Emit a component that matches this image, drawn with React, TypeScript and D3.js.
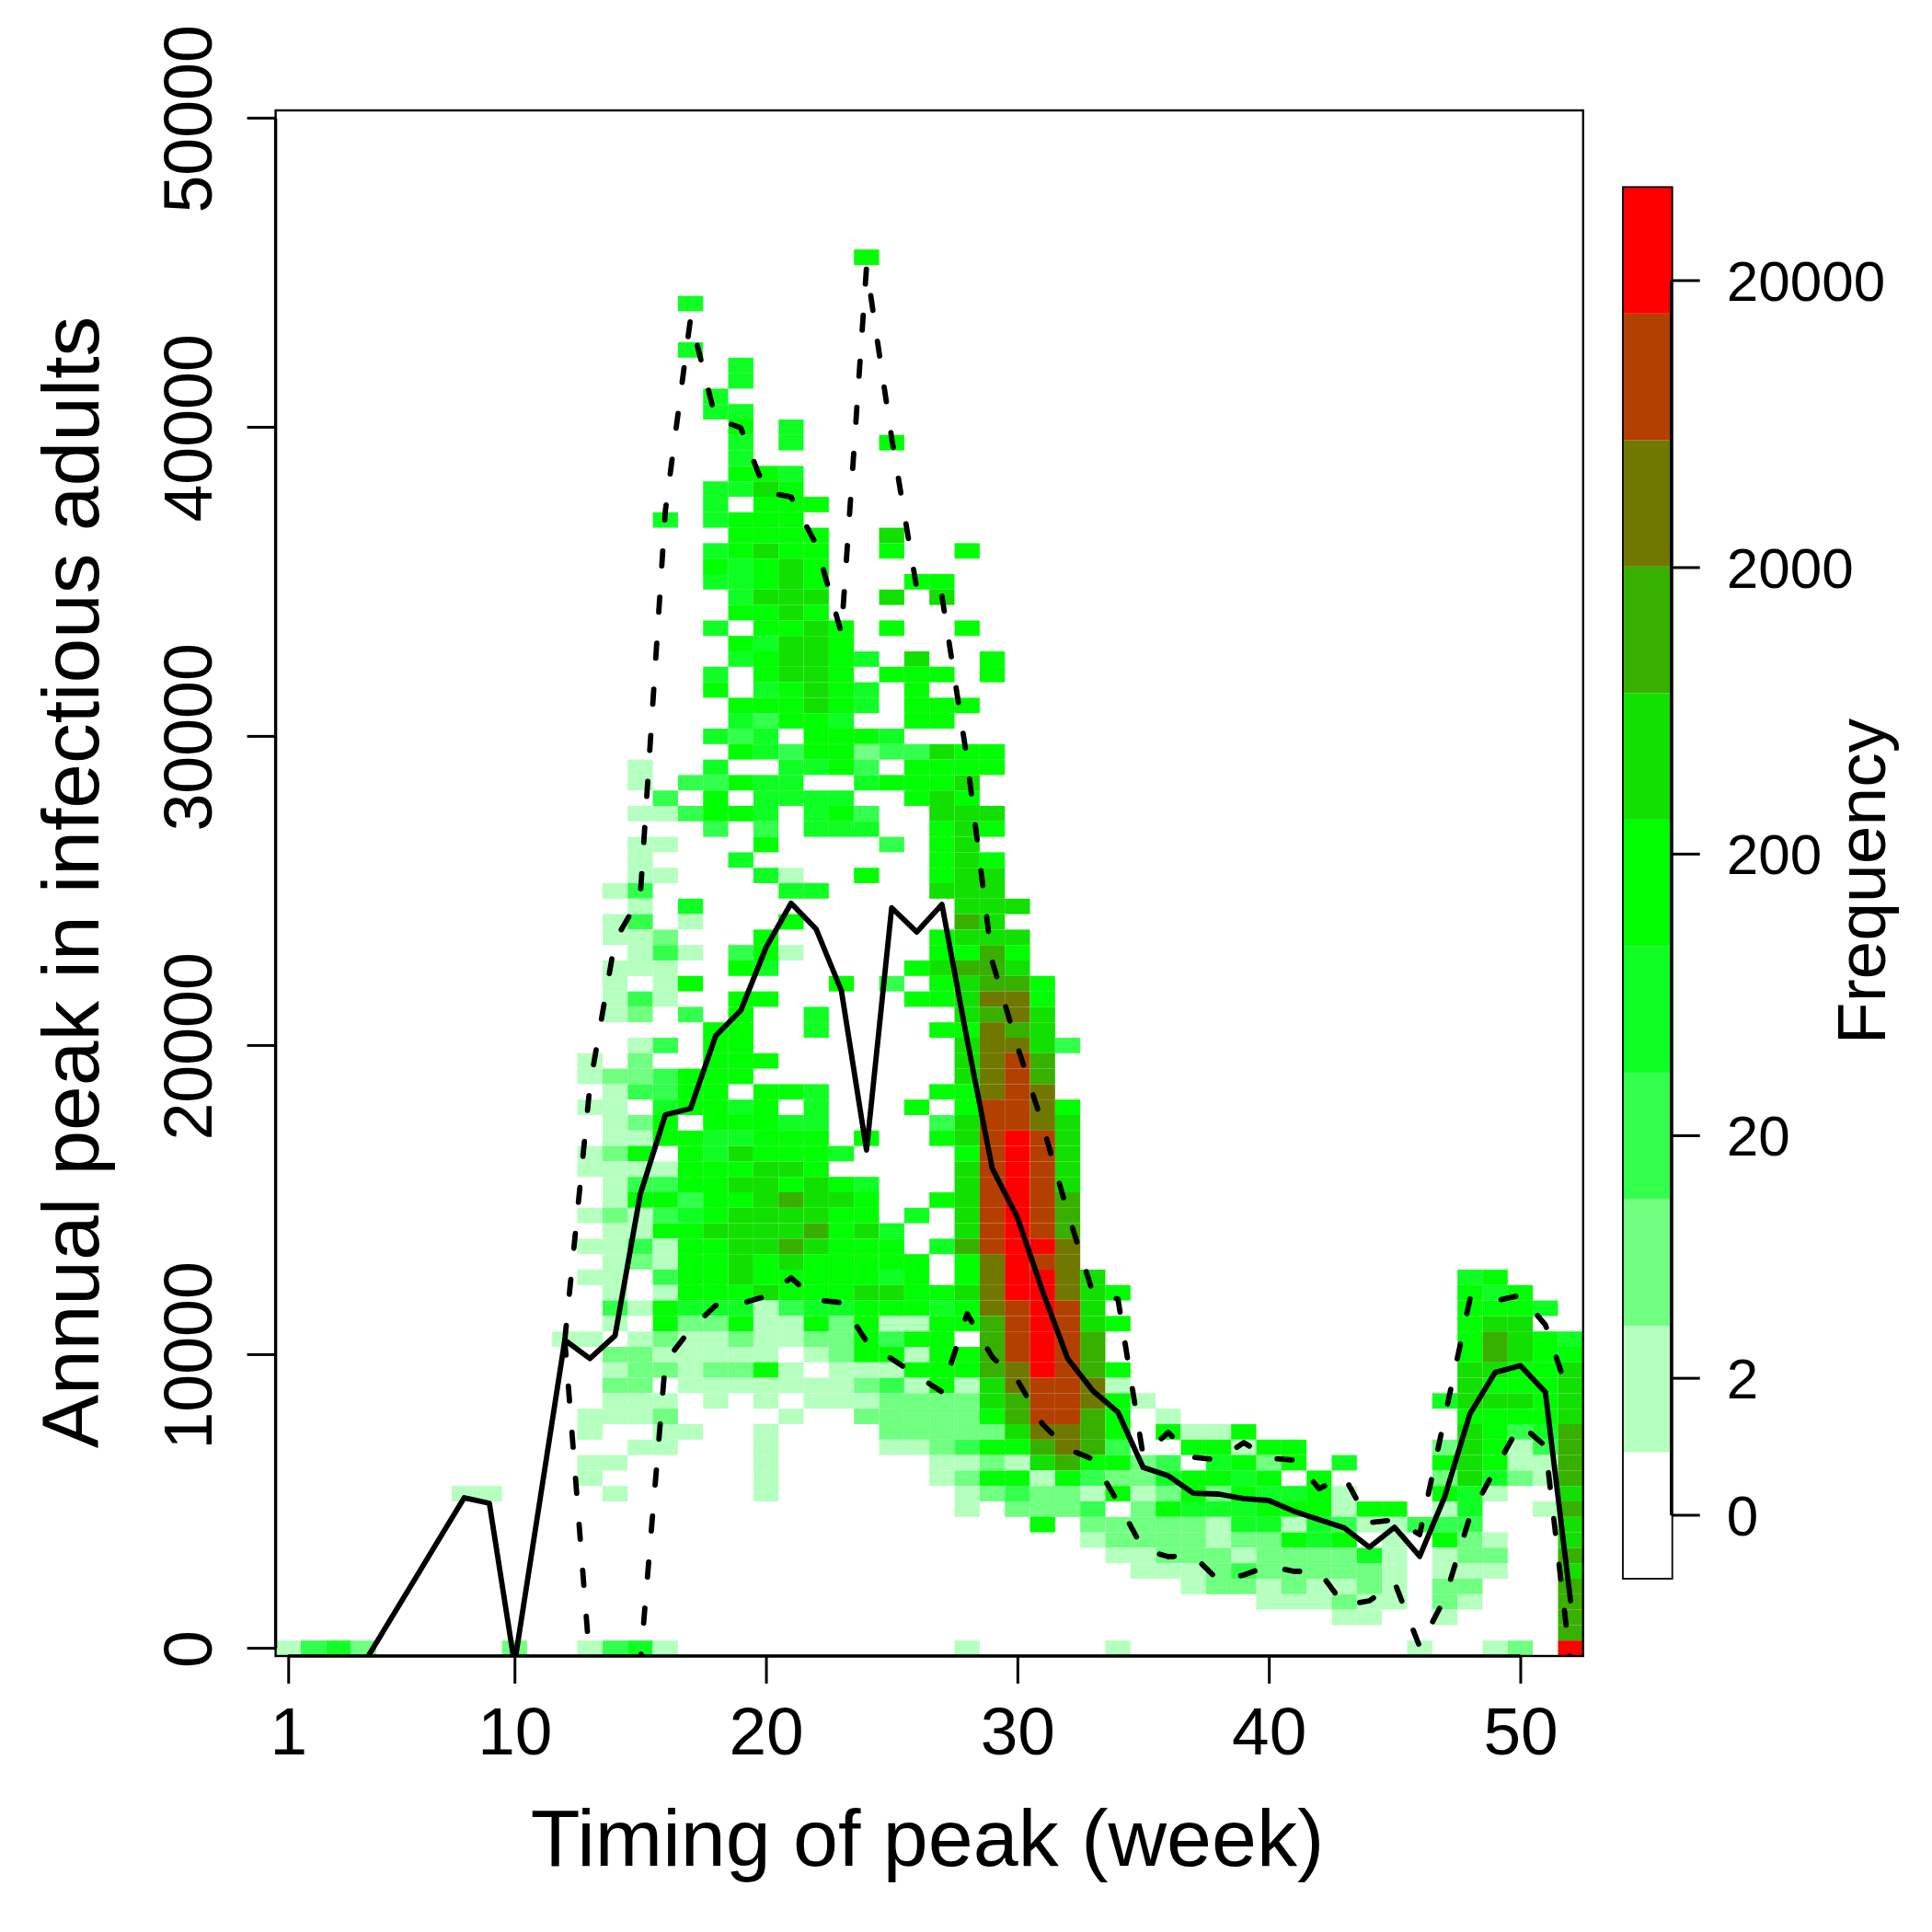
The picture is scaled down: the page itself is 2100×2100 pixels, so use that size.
import { useEffect, useRef } from 'react';
import * as d3 from 'd3';

const weeks = d3.range(1, 53);

// mean peak per week
const meanPeak = [0, 0, 0, 0, 1342, 2685, 4027, 5369, 5190, 0, 5230, 10467, 9871, 10615, 15180, 17758, 17957, 20308, 21133, 23165, 24603, 23760, 21775, 16618, 24454, 23671, 24564, 20190, 16023, 14440, 12060, 9872, 8830, 8136, 6350, 6083, 5517, 5488, 5340, 5280, 4932, 4664, 4396, 3771, 4416, 3473, 5408, 8086, 9425, 9645, 8782, 2036];

// dashed bounds only start at week 12
const upperWeeks = d3.range(12, 53);
const upperPeak = [10467, 18701, 23403, 24802, 37301, 43521, 40277, 39980, 37896, 37748, 36200, 33343, 45188, 39652, 34772, 34534, 29266, 22719, 19981, 17451, 14594, 12005, 11797, 6738, 7482, 6678, 6589, 7154, 6648, 6589, 5666, 6053, 4565, 4654, 4178, 7988, 11797, 11737, 11916, 10963, 8523];
const lowerPeak = [10467, 0, 0, 0, 9773, 10815, 11589, 11648, 11886, 12481, 11767, 11678, 10428, 9862, 9327, 8791, 11321, 9922, 9178, 7750, 6946, 6619, 5220, 3702, 3464, 3494, 2690, 2869, 3166, 2988, 2988, 1887, 2036, 2631, 548, 2125, 4773, 6291, 7750, 7035, 0];

// frequency class per cell: [row, "week:class ..."], row i holds peaks up to (i + 1) * 500
const cellRows: [number, string][] = [
  [90, '24:5'],
  [87, '17:4'],
  [84, '17:4'],
  [83, '19:4'],
  [82, '19:4'],
  [81, '18:4'],
  [80, '18:4 19:4'],
  [79, '19:5 21:4'],
  [78, '19:4 21:4 25:5'],
  [77, '19:4'],
  [76, '19:5 20:5 21:4'],
  [75, '18:4 19:4 20:6 21:5'],
  [74, '18:4 20:5 21:5 22:5'],
  [73, '16:4 18:4 19:5 20:5 21:5'],
  [72, '19:5 20:5 21:5 22:5 25:6'],
  [71, '18:4 19:5 20:6 21:5 22:5 25:5 28:5'],
  [70, '18:5 19:4 20:5 21:6 22:5'],
  [69, '18:4 19:4 20:5 21:6 22:5 26:5 27:5'],
  [68, '19:4 20:6 21:6 22:6 25:6 27:6'],
  [67, '19:5 20:5 21:6 22:5'],
  [66, '18:4 20:5 21:5 22:6 23:5 25:5 28:5'],
  [65, '19:5 20:4 21:6 22:6 23:5'],
  [64, '19:4 20:5 21:6 22:6 23:5 24:4 26:6 29:5'],
  [63, '18:4 20:5 21:6 22:6 23:5 25:5 26:5 27:5 29:5'],
  [62, '18:5 20:4 21:5 22:6 23:5 24:4 26:5'],
  [61, '19:5 20:5 21:5 22:6 23:5 24:4 26:5 27:5 28:5'],
  [60, '19:4 20:3 21:5 22:5 23:4 26:5 27:5'],
  [59, '18:4 19:3 20:4 22:5 23:5 24:5 25:4'],
  [58, '19:5 20:4 21:3 22:5 23:5 24:2 25:3 26:3 27:6 28:5 29:5'],
  [57, '15:1 18:4 21:4 22:4 23:5 24:3 26:5 27:5 28:5 29:5'],
  [56, '15:1 17:3 18:3 19:5 20:4 21:4 24:4 25:5 26:5 27:5 28:6'],
  [55, '16:3 18:5 20:4 21:4 22:4 23:4 26:5 27:6 28:5'],
  [54, '15:1 16:1 17:3 18:5 19:5 20:4 22:4 23:5 24:3 27:6 28:6 29:6'],
  [53, '18:3 20:3 22:4 23:4 24:4 27:5 28:6 29:5'],
  [52, '15:1 16:1 20:5 25:3 27:5 28:6'],
  [51, '15:1 19:4 27:5 28:6 29:5'],
  [50, '15:1 16:1 20:4 21:1 24:5 27:5 28:6 29:6'],
  [49, '14:1 15:3 21:4 22:4 27:6 28:6 29:6'],
  [48, '15:1 17:4 28:6 29:6 30:6'],
  [47, '14:1 15:3 17:1 21:5 28:7 29:6'],
  [46, '14:1 15:1 16:2 20:5 27:5 28:6 29:6 30:6'],
  [45, '15:1 16:3 17:1 19:3 20:5 21:1 27:5 28:5 29:7 30:5'],
  [44, '14:1 15:1 16:1 19:5 20:4 26:5 27:6 28:7 29:7 30:6'],
  [43, '14:1 16:1 17:5 23:5 25:3 27:5 28:6 29:7 30:7 31:5'],
  [42, '14:1 15:3 16:1 19:5 20:5 26:5 27:5 28:6 29:8 30:8 31:5'],
  [41, '14:1 15:2 17:3 19:5 22:4 28:6 29:7 30:8 31:6'],
  [40, '18:5 19:5 22:4 27:5 28:5 29:8 30:7 31:6'],
  [39, '15:1 16:3 18:5 19:5 28:6 29:8 30:8 31:6 32:3'],
  [38, '13:1 15:2 18:5 19:5 20:5 28:6 29:8 30:9 31:7'],
  [37, '13:1 14:2 15:2 16:3 17:5 18:5 19:5 28:6 29:8 30:9 31:7'],
  [36, '14:1 15:3 16:3 17:5 18:5 20:5 21:5 22:4 27:5 28:5 29:8 30:9 31:8'],
  [35, '13:1 14:1 16:4 17:5 18:5 19:4 20:5 22:4 26:5 28:5 29:9 30:9 31:8 32:5'],
  [34, '14:1 15:2 16:5 18:5 19:5 20:5 21:4 22:4 27:3 28:6 29:9 30:9 31:8 32:6'],
  [33, '14:1 15:1 16:5 17:5 18:4 19:4 20:5 21:5 22:5 24:5 27:5 28:6 29:9 30:10 31:9 32:6'],
  [32, '13:1 14:2 15:5 17:5 18:4 19:6 20:5 21:5 22:5 23:4 28:5 29:9 30:10 31:9 32:6'],
  [31, '13:1 14:1 15:1 16:1 17:5 18:5 19:5 20:6 21:6 22:5 28:6 29:9 30:10 31:9 32:6'],
  [30, '14:1 15:3 16:3 17:5 18:5 19:6 20:6 21:5 22:6 23:5 24:4 28:6 29:9 30:10 31:9 32:6'],
  [29, '14:1 15:5 16:5 17:3 18:5 19:5 20:6 21:7 22:6 23:6 24:5 27:5 28:6 29:9 30:10 31:9 32:7'],
  [28, '13:1 14:2 15:1 16:3 17:4 18:5 19:6 20:6 21:6 22:6 23:5 24:5 26:4 28:6 29:9 30:10 31:9 32:7'],
  [27, '14:1 15:1 16:5 17:5 18:6 19:6 20:6 21:6 22:7 23:5 24:6 25:4 28:6 29:9 30:10 31:9 32:7'],
  [26, '13:1 14:1 15:3 16:1 17:5 18:5 19:6 20:6 21:7 22:6 23:5 24:5 25:5 27:4 28:7 29:9 30:10 31:10 32:8'],
  [25, '14:1 15:2 16:1 17:5 18:5 19:6 20:5 21:6 22:5 23:5 24:5 25:5 26:5 28:5 29:8 30:10 31:9 32:8'],
  [24, '13:1 14:1 16:3 17:5 18:5 19:6 20:5 21:5 22:5 23:5 24:5 25:4 26:5 28:5 29:8 30:10 31:10 32:8 33:6 48:4 49:5'],
  [23, '14:1 16:1 17:5 18:5 19:5 20:6 21:5 22:5 23:5 24:6 25:6 26:5 27:5 28:6 29:8 30:10 31:10 32:8 33:6 34:5 48:5 49:4 50:5'],
  [22, '14:3 15:1 16:5 17:4 18:4 19:4 20:1 21:3 22:4 23:4 24:5 25:5 26:5 27:4 28:5 29:8 30:9 31:10 32:9 33:6 48:5 49:5 50:5 51:4'],
  [21, '14:1 16:5 17:2 18:2 19:5 20:1 21:1 22:5 23:2 24:5 25:1 26:1 27:5 28:5 29:7 30:9 31:10 32:9 33:6 34:5 48:5 49:6 50:6'],
  [20, '12:1 13:1 15:1 16:2 17:1 18:1 19:2 20:1 21:1 22:2 23:2 24:5 25:3 26:5 27:5 29:7 30:9 31:10 32:9 33:7 48:5 49:7 50:6 51:5 52:4'],
  [19, '14:2 15:2 16:1 17:1 18:1 19:1 20:1 22:1 23:2 24:5 25:5 26:1 27:5 28:5 29:7 30:9 31:10 32:9 33:7 48:5 49:7 50:6 51:5 52:5'],
  [18, '14:1 15:2 16:2 17:1 18:2 19:2 20:5 21:1 23:1 24:1 25:1 26:5 27:5 28:5 29:7 30:8 31:10 32:9 33:7 34:5 48:6 49:6 50:5 51:5 52:6'],
  [17, '14:2 15:2 17:1 18:1 19:1 20:1 21:1 22:1 23:1 24:2 25:3 26:1 27:5 28:1 29:6 30:8 31:9 32:9 33:8 34:1 48:6 49:5 50:5 51:5 52:6'],
  [16, '14:1 15:1 16:1 18:1 20:1 22:1 23:1 24:1 25:2 26:2 27:2 28:2 29:6 30:7 31:9 32:9 33:8 34:5 35:1 47:4 48:6 49:6 50:6 51:5 52:6'],
  [15, '13:1 14:1 15:1 16:2 21:1 24:2 25:2 26:2 27:2 28:2 29:5 30:7 31:9 32:9 33:7 34:5 36:1 48:5 49:5 50:5 51:5 52:6'],
  [14, '13:1 16:1 17:1 20:1 25:2 26:2 27:2 28:2 29:2 30:6 31:8 32:8 33:7 34:5 36:5 37:1 38:1 39:5 48:6 49:5 50:3 51:4 52:7'],
  [13, '15:1 16:1 20:1 25:1 26:1 27:2 28:3 29:5 30:5 31:7 32:8 33:7 34:3 37:5 38:5 39:1 40:5 41:5 47:2 48:6 49:5 50:1 51:3 52:7'],
  [12, '13:1 14:1 20:1 27:1 28:1 29:2 30:1 31:6 32:7 33:5 34:5 35:2 36:3 38:4 39:5 40:2 41:5 43:4 47:5 48:6 49:5 50:1 51:1 52:7'],
  [11, '13:1 20:1 27:1 28:2 29:5 30:5 31:1 32:5 33:3 34:2 35:2 36:4 37:5 38:5 39:4 40:5 42:5 47:2 48:6 49:4 50:2 51:1 52:7'],
  [10, '8:1 9:1 14:1 20:1 28:1 29:2 30:3 31:2 32:2 33:1 34:5 35:1 36:2 37:5 38:2 39:5 40:4 41:4 42:5 43:1 47:5 48:4 49:1 52:6'],
  [9, '28:1 30:2 31:2 32:2 33:3 35:2 36:5 37:4 38:4 39:4 40:5 41:5 42:5 43:1 44:5 45:5 47:1 48:4 51:1 52:7'],
  [8, '31:5 33:2 34:2 35:2 36:2 37:2 38:1 39:4 40:4 41:1 42:4 43:3 44:1 45:1 46:3 47:3 48:3 52:6'],
  [7, '33:1 34:2 35:2 36:2 37:2 38:1 39:2 40:2 41:5 42:4 43:5 45:1 47:5 48:2 49:1 52:6'],
  [6, '34:1 35:1 36:2 37:2 38:2 39:1 40:2 41:2 42:2 43:2 44:4 45:1 47:1 48:2 49:2 52:7'],
  [5, '35:1 36:1 37:1 38:2 39:3 40:2 41:2 42:2 43:2 44:2 45:1 47:1 48:1 49:1 52:6'],
  [4, '37:1 38:2 39:2 40:1 41:2 42:1 43:1 44:2 45:1 47:2 48:2 52:7'],
  [3, '40:1 41:1 42:1 43:2 44:1 45:1 47:2 48:1 52:7'],
  [2, '43:1 44:1 47:1 52:7'],
  [1, '52:7'],
  [0, '1:1 2:3 3:4 4:2 10:2 13:1 14:3 15:4 16:1 28:1 34:1 46:1 49:1 50:2 52:10'],
];

const palette = ['#ffffff', '#b5ffbf', '#70ff80', '#33ff4d', '#0fff24', '#00ff00', '#12e000', '#37b000', '#707800', '#b34000', '#ff0000'];

const xTicks = [1, 10, 20, 30, 40, 50];
const yTicks = [0, 10000, 20000, 30000, 40000, 50000];
const legendTicks = [0, 2, 20, 200, 2000, 20000];

const App = () => {
  const ref = useRef<SVGSVGElement>(null);

  useEffect(() => {
    if (!ref.current) return;
    const svg = d3.select(ref.current);
    svg.selectAll('*').remove();

    const font = 'Liberation Sans, Arial, sans-serif';
    const left = 299.6;
    const right = 1720.8;
    const top = 120;
    const bottom = 1800;

    const x = d3.scaleLinear().domain([0.5, 52.5]).range([left, right]);
    const row = d3.scaleLinear().domain([-0.5, 99.5]).range([bottom, top]);
    // the first row is labelled 0, every other row by its upper bound
    const rowOf = (v: number) => v / 500 - 1;
    const y = (v: number) => row(rowOf(v));
    const yTickRow = (v: number) => (v === 0 ? 0 : rowOf(v));

    const cells = cellRows.flatMap(([r, s]) =>
      s.split(' ').map(t => {
        const [w, c] = t.split(':').map(Number);
        return { r, w, c };
      })
    );

    svg.append('defs').append('clipPath').attr('id', 'plot-clip')
      .append('rect')
      .attr('x', left).attr('y', top)
      .attr('width', right - left).attr('height', bottom - top);

    svg.append('g').selectAll('rect')
      .data(cells)
      .join('rect')
      .attr('x', d => x(d.w - 0.5))
      .attr('y', d => row(d.r + 0.5))
      .attr('width', x(1.5) - x(0.5))
      .attr('height', row(0) - row(1))
      .attr('fill', d => palette[d.c]);

    const plot = svg.append('g').attr('clip-path', 'url(#plot-clip)');
    const line = d3.line<number>().x((_, i) => x(weeks[i])).y(d => y(d));
    const dashed = d3.line<number>().x((_, i) => x(upperWeeks[i])).y(d => y(d));

    plot.append('path')
      .attr('d', line(meanPeak))
      .attr('fill', 'none').attr('stroke', '#000').attr('stroke-width', 5.8)
      .attr('stroke-linecap', 'round').attr('stroke-linejoin', 'round');

    [upperPeak, lowerPeak].forEach(series => {
      plot.append('path')
        .attr('d', dashed(series))
        .attr('fill', 'none').attr('stroke', '#000').attr('stroke-width', 5.8)
        .attr('stroke-linecap', 'round').attr('stroke-linejoin', 'round')
        .attr('stroke-dasharray', '16.2 34');
    });

    svg.append('rect')
      .attr('x', left).attr('y', top)
      .attr('width', right - left).attr('height', bottom - top)
      .attr('fill', 'none').attr('stroke', '#000').attr('stroke-width', 2.4);

    // axes
    const xAxis = d3.axisBottom(x).tickValues(xTicks).tickSize(30).tickFormat(d => String(d));
    const gx = svg.append('g').attr('transform', `translate(0,${bottom})`).call(xAxis);
    gx.select('.domain').remove();
    gx.selectAll('line').attr('stroke', '#000').attr('stroke-width', 3);
    gx.selectAll('text')
      .attr('y', 107).attr('dy', 0)
      .attr('fill', '#000')
      .style('font-family', font).style('font-size', '73px');
    svg.append('line')
      .attr('x1', x(1)).attr('x2', x(50)).attr('y1', bottom).attr('y2', bottom)
      .attr('stroke', '#000').attr('stroke-width', 3.4);

    const yScale = d3.scalePoint<number>().domain(yTicks).range([0, 1]);
    const yAxis = d3.axisLeft(yScale).tickSize(31).tickFormat(d => String(d));
    const gy = svg.append('g').attr('transform', `translate(${left},0)`).call(yAxis);
    gy.select('.domain').remove();
    gy.selectAll<SVGGElement, number>('.tick')
      .attr('transform', d => `translate(0,${row(yTickRow(d))})`);
    gy.selectAll('line').attr('stroke', '#000').attr('stroke-width', 3);
    gy.selectAll('text')
      .attr('x', 0).attr('y', 0).attr('dy', 0)
      .attr('transform', 'translate(-70,1) rotate(-90)')
      .attr('text-anchor', 'middle')
      .attr('fill', '#000')
      .style('font-family', font).style('font-size', '73.5px');
    svg.append('line')
      .attr('x1', left).attr('x2', left)
      .attr('y1', row(0)).attr('y2', row(rowOf(50000)))
      .attr('stroke', '#000').attr('stroke-width', 3.4);

    // axis titles
    svg.append('text')
      .attr('x', 1008).attr('y', 2028)
      .attr('text-anchor', 'middle')
      .style('font-family', font).style('font-size', '88px')
      .text('Timing of peak (week)');
    svg.append('text')
      .attr('transform', 'translate(107,959) rotate(-90)')
      .attr('text-anchor', 'middle')
      .style('font-family', font).style('font-size', '87.5px')
      .text('Annual peak in infectious adults');

    // colour key
    const keyLeft = 1764;
    const keyRight = 1817.7;
    const keyTop = 203.3;
    const keyBottom = 1716;
    const band = d3.scaleBand<number>().domain(d3.range(10, -1, -1)).range([keyTop, keyBottom]);
    svg.append('g').selectAll('rect')
      .data(d3.range(11))
      .join('rect')
      .attr('x', keyLeft).attr('y', d => band(d)!)
      .attr('width', keyRight - keyLeft).attr('height', band.bandwidth())
      .attr('fill', d => palette[d]);
    svg.append('rect')
      .attr('x', keyLeft).attr('y', keyTop)
      .attr('width', keyRight - keyLeft).attr('height', keyBottom - keyTop)
      .attr('fill', 'none').attr('stroke', '#000').attr('stroke-width', 1.8);

    const key = d3.scaleLinear().domain([0, Math.log10(20001)]).range([1647, 305]);
    const keyScale = d3.scalePoint<number>().domain(legendTicks).range([0, 1]);
    const keyAxis = d3.axisRight(keyScale).tickSize(31).tickFormat(d => String(d));
    const gk = svg.append('g').attr('transform', 'translate(1816.7,0)').call(keyAxis);
    gk.select('.domain').remove();
    gk.selectAll<SVGGElement, number>('.tick')
      .attr('transform', d => `translate(0,${key(Math.log10(d + 1))})`);
    gk.selectAll('line').attr('stroke', '#000').attr('stroke-width', 3);
    gk.selectAll('text')
      .attr('x', 60).attr('y', 0).attr('dy', 22)
      .attr('fill', '#000')
      .style('font-family', font).style('font-size', '62px');
    svg.append('line')
      .attr('x1', 1816.7).attr('x2', 1816.7)
      .attr('y1', key(0)).attr('y2', key(Math.log10(20001)))
      .attr('stroke', '#000').attr('stroke-width', 3.4);

    svg.append('text')
      .attr('transform', 'translate(2049,958) rotate(-90)')
      .attr('text-anchor', 'middle')
      .style('font-family', font).style('font-size', '75px')
      .text('Frequency');
  }, []);

  return (
    <svg
      ref={ref}
      width={2100}
      height={2100}
      style={{ position: 'absolute', left: 0, top: 0, background: '#fff' }}
    />
  );
};

export default App;
